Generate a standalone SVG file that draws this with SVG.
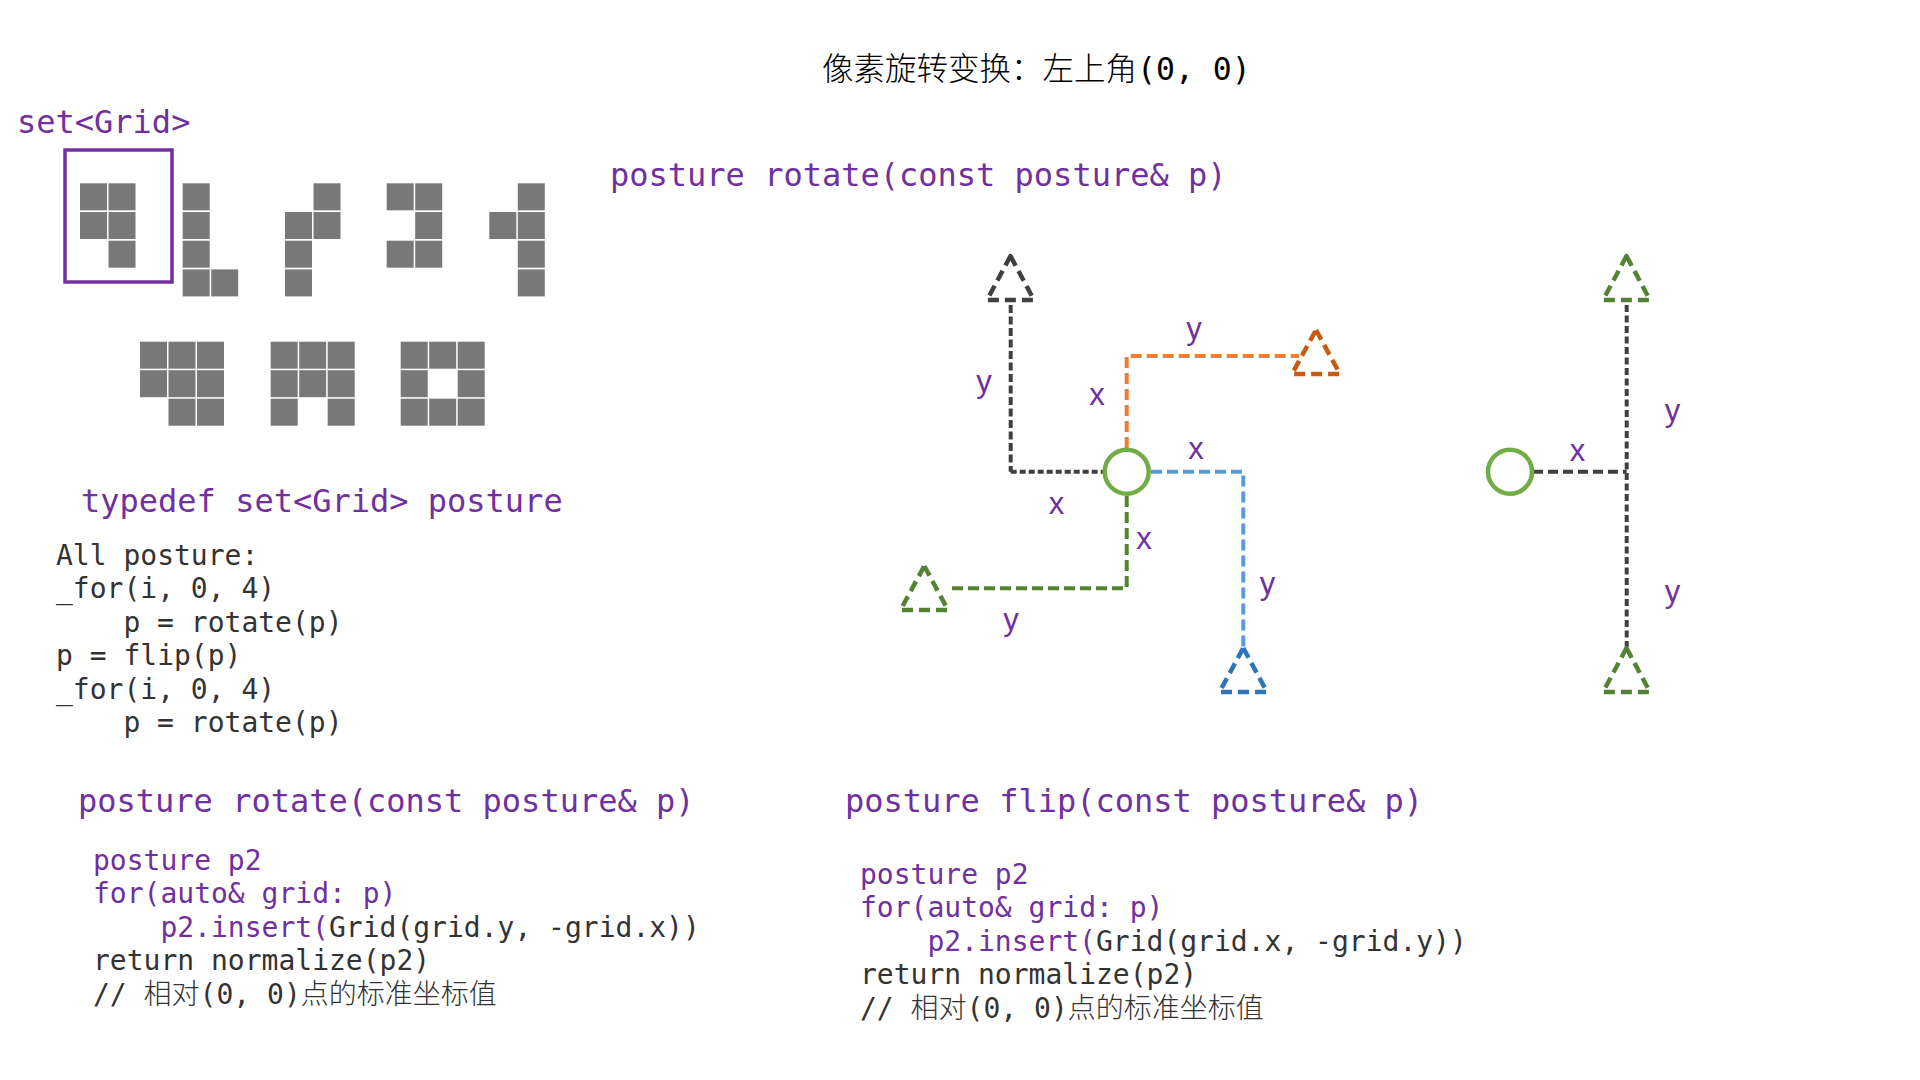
<svg xmlns="http://www.w3.org/2000/svg" width="1920" height="1080" viewBox="0 0 1920 1080">
<style>
.mono{font-family:"DejaVu Sans Mono","Liberation Mono","Noto Sans CJK SC",monospace;}
.cjk{font-family:"Noto Sans CJK SC",sans-serif;font-weight:300;}
.pur{fill:#7030A0;}
.dk{fill:#333333;}
.h{font-size:32px;}
.c{font-size:28px;}
.cell{fill:#787878;}
.lbl{font-family:"Liberation Sans",Arial,sans-serif;font-size:31px;fill:#7030A0;text-anchor:middle;}
.ln{fill:none;stroke-width:4;}
.tri{fill:none;stroke-width:4.5;stroke-dasharray:11 6;stroke-linejoin:round;}
.circ{fill:#fff;stroke:#70AD47;stroke-width:4.5;}
</style>
<rect width="1920" height="1080" fill="#fff"/>

<g id="title">
<text class="mono" x="822" y="80" font-size="31.5" fill="#000"><tspan class="cjk">像素旋转变换：左上角</tspan>(0, 0)</text>
</g>

<g id="set-grid-label"><text class="mono h pur" x="17" y="133" font-size="31.5">set&lt;Grid&gt;</text></g>
<g id="selected-box"><rect x="65" y="150" width="107" height="132" fill="none" stroke="#7030A0" stroke-width="3.5"/></g>

<g id="shape1">
<rect class="cell" x="80" y="183.3" width="27" height="27"/><rect class="cell" x="108.5" y="183.3" width="27" height="27"/>
<rect class="cell" x="80" y="212" width="27" height="27"/><rect class="cell" x="108.5" y="212" width="27" height="27"/>
<rect class="cell" x="108.5" y="240.7" width="27" height="27"/>
</g>
<g id="shape2">
<rect class="cell" x="182.7" y="183.3" width="27" height="27"/>
<rect class="cell" x="182.7" y="212" width="27" height="27"/>
<rect class="cell" x="182.7" y="240.7" width="27" height="27"/>
<rect class="cell" x="182.7" y="269.4" width="27" height="27"/><rect class="cell" x="211.2" y="269.4" width="27" height="27"/>
</g>
<g id="shape3">
<rect class="cell" x="313.5" y="183.3" width="27" height="27"/>
<rect class="cell" x="285" y="212" width="27" height="27"/><rect class="cell" x="313.5" y="212" width="27" height="27"/>
<rect class="cell" x="285" y="240.7" width="27" height="27"/>
<rect class="cell" x="285" y="269.4" width="27" height="27"/>
</g>
<g id="shape4">
<rect class="cell" x="386.7" y="183.3" width="27" height="27"/><rect class="cell" x="415.2" y="183.3" width="27" height="27"/>
<rect class="cell" x="415.2" y="212" width="27" height="27"/>
<rect class="cell" x="386.7" y="240.7" width="27" height="27"/><rect class="cell" x="415.2" y="240.7" width="27" height="27"/>
</g>
<g id="shape5">
<rect class="cell" x="517.8" y="183.3" width="27" height="27"/>
<rect class="cell" x="489.3" y="212" width="27" height="27"/><rect class="cell" x="517.8" y="212" width="27" height="27"/>
<rect class="cell" x="517.8" y="240.7" width="27" height="27"/>
<rect class="cell" x="517.8" y="269.4" width="27" height="27"/>
</g>
<g id="shape6">
<rect class="cell" x="140" y="341.7" width="27" height="27"/><rect class="cell" x="168.5" y="341.7" width="27" height="27"/><rect class="cell" x="197" y="341.7" width="27" height="27"/>
<rect class="cell" x="140" y="370.2" width="27" height="27"/><rect class="cell" x="168.5" y="370.2" width="27" height="27"/><rect class="cell" x="197" y="370.2" width="27" height="27"/>
<rect class="cell" x="168.5" y="398.7" width="27" height="27"/><rect class="cell" x="197" y="398.7" width="27" height="27"/>
</g>
<g id="shape7">
<rect class="cell" x="270.7" y="341.7" width="27" height="27"/><rect class="cell" x="299.2" y="341.7" width="27" height="27"/><rect class="cell" x="327.7" y="341.7" width="27" height="27"/>
<rect class="cell" x="270.7" y="370.2" width="27" height="27"/><rect class="cell" x="299.2" y="370.2" width="27" height="27"/><rect class="cell" x="327.7" y="370.2" width="27" height="27"/>
<rect class="cell" x="270.7" y="398.7" width="27" height="27"/><rect class="cell" x="327.7" y="398.7" width="27" height="27"/>
</g>
<g id="shape8">
<rect class="cell" x="400.7" y="341.7" width="27" height="27"/><rect class="cell" x="429.2" y="341.7" width="27" height="27"/><rect class="cell" x="457.7" y="341.7" width="27" height="27"/>
<rect class="cell" x="400.7" y="370.2" width="27" height="27"/><rect class="cell" x="457.7" y="370.2" width="27" height="27"/>
<rect class="cell" x="400.7" y="398.7" width="27" height="27"/><rect class="cell" x="429.2" y="398.7" width="27" height="27"/><rect class="cell" x="457.7" y="398.7" width="27" height="27"/>
</g>

<g id="typedef"><text class="mono h pur" x="81" y="512" font-size="31.7">typedef set&lt;Grid&gt; posture</text></g>

<g id="all-posture" class="mono c dk">
<text x="56" y="565">All posture:</text>
<text x="56" y="598.4">_for(i, 0, 4)</text>
<text x="123.4" y="631.8">p = rotate(p)</text>
<text x="56" y="665.2">p = flip(p)</text>
<text x="56" y="698.6">_for(i, 0, 4)</text>
<text x="123.4" y="732">p = rotate(p)</text>
</g>

<g id="rotate-heading-top"><text class="mono h pur" x="610" y="186">posture rotate(const posture&amp; p)</text></g>

<g id="rotate-code">
<text class="mono h pur" x="78" y="812">posture rotate(const posture&amp; p)</text>
<text class="mono c pur" x="93" y="870">posture p2</text>
<text class="mono c pur" x="93" y="903.4">for(auto&amp; grid: p)</text>
<text class="mono c" x="160.4" y="936.8"><tspan class="pur">p2.insert(</tspan><tspan class="dk">Grid(grid.y, -grid.x))</tspan></text>
<text class="mono c dk" x="93" y="970.2">return normalize(p2)</text>
<text class="mono c dk" x="93" y="1003.6">// <tspan class="cjk">相对</tspan>(0, 0)<tspan class="cjk">点的标准坐标值</tspan></text>
</g>

<g id="flip-code">
<text class="mono h pur" x="845" y="812">posture flip(const posture&amp; p)</text>
<text class="mono c pur" x="860" y="884">posture p2</text>
<text class="mono c pur" x="860" y="917.4">for(auto&amp; grid: p)</text>
<text class="mono c" x="927.4" y="950.8"><tspan class="pur">p2.insert(</tspan><tspan class="dk">Grid(grid.x, -grid.y))</tspan></text>
<text class="mono c dk" x="860" y="984.2">return normalize(p2)</text>
<text class="mono c dk" x="860" y="1017.6">// <tspan class="cjk">相对</tspan>(0, 0)<tspan class="cjk">点的标准坐标值</tspan></text>
</g>

<g id="connectors">
<path class="ln" stroke="#404040" stroke-dasharray="8 3.5" d="M1010.7 305 V471.7"/>
<path class="ln" stroke="#404040" stroke-dasharray="6 3" d="M1010.7 471.7 H1103"/>
<path class="ln" stroke="#ED7D31" stroke-dasharray="11 5" d="M1126.7 448 V356 H1299"/>
<path class="ln" stroke="#5B9BD5" stroke-dasharray="11 5" d="M1151 471.7 H1243.3 V647"/>
<path class="ln" stroke="#548235" stroke-dasharray="11 5" d="M1126.7 496 V588.3 H950"/>
<path class="ln" stroke="#404040" stroke-dasharray="10 5" d="M1533 471.7 H1626.7"/>
<path class="ln" stroke="#404040" stroke-dasharray="7 3.5" d="M1626.7 305 V647"/>
</g>

<g id="labels">
<text class="lbl" x="984" y="392">y</text>
<text class="lbl" x="1097" y="405">x</text>
<text class="lbl" x="1194" y="338.5">y</text>
<text class="lbl" x="1196" y="458.5">x</text>
<text class="lbl" x="1056.5" y="514">x</text>
<text class="lbl" x="1144" y="549">x</text>
<text class="lbl" x="1267.5" y="594">y</text>
<text class="lbl" x="1011" y="630">y</text>
<text class="lbl" x="1577.5" y="461">x</text>
<text class="lbl" x="1672.5" y="421">y</text>
<text class="lbl" x="1672.5" y="602">y</text>
</g>

<g id="origin-rotate"><circle class="circ" cx="1126.7" cy="471.7" r="22"/></g>
<g id="origin-flip"><circle class="circ" cx="1510" cy="471.7" r="22"/></g>

<g id="tri-gray"><polygon class="tri" stroke="#404040" points="1010.5,256 1034,300 987,300"/></g>
<g id="tri-orange"><polygon class="tri" stroke="#C55A11" points="1316,330 1340,374 1292,374"/></g>
<g id="tri-blue"><polygon class="tri" stroke="#2E75B6" points="1243.3,648 1267,692 1219.5,692"/></g>
<g id="tri-green"><polygon class="tri" stroke="#548235" points="924.3,566 948,610 900.5,610"/></g>
<g id="tri-flip-top"><polygon class="tri" stroke="#548235" points="1626.5,256 1650,300 1603,300"/></g>
<g id="tri-flip-bottom"><polygon class="tri" stroke="#548235" points="1626.5,648 1650,692 1603,692"/></g>
</svg>
